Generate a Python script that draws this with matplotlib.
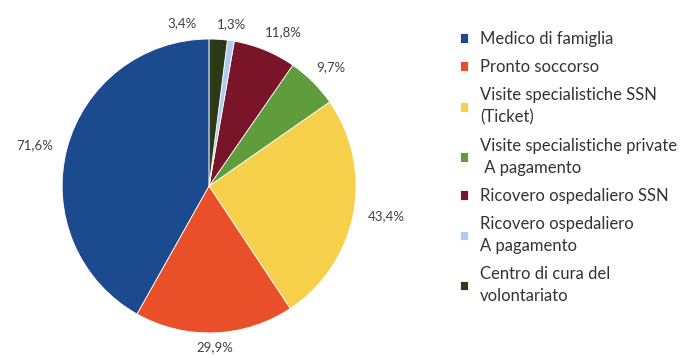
import matplotlib
matplotlib.use("Agg")
import matplotlib.pyplot as plt

categories = [
    "Medico di famiglia",
    "Pronto soccorso",
    "Visite specialistiche SSN\n(Ticket)",
    "Visite specialistiche private\n A pagamento",
    "Ricovero ospedaliero SSN",
    "Ricovero ospedaliero\nA pagamento",
    "Centro di cura del\nvolontariato",
]
values = [71.6, 29.9, 43.4, 9.7, 11.8, 1.3, 3.4]
colors = ["#1C4A8E", "#E9502A", "#F6D04A", "#5E9C3C", "#7A1428", "#AFCBEE", "#2C3A18"]

value_labels = [f"{v:.1f}%".replace(".", ",") for v in values]

plt.rcParams["font.family"] = ["Lato", "DejaVu Sans"]

fig = plt.figure(figsize=(6.89, 3.58), dpi=100)
ax = fig.add_axes([0.090, 0.070, 0.427, 0.821])

wedges, texts = ax.pie(
    values,
    labels=value_labels,
    colors=colors,
    startangle=90,
    counterclock=True,
    labeldistance=1.1,
    wedgeprops=dict(edgecolor="white", linewidth=0.6),
    textprops=dict(fontsize=9.5, color="#404040"),
)
ax.set_xlim(-1, 1)
ax.set_ylim(-1, 1)
ax.set_aspect("equal")

# bottom label centred under its slice
texts[1].set_horizontalalignment("center")
# small offsets for the crowded labels along the top
offsets = {3: (-0.05, 0.03), 4: (-0.04, 0.03), 5: (-0.11, 0.01), 6: (-0.35, 0.01)}
for i, (dx, dy) in offsets.items():
    x, y = texts[i].get_position()
    texts[i].set_position((x + dx, y + dy))

leg = fig.legend(
    wedges,
    categories,
    loc="upper left",
    bbox_to_anchor=(0.646, 0.955),
    frameon=False,
    fontsize=12,
    handlelength=0.5,
    handleheight=0.5,
    handletextpad=0.7,
    labelspacing=0.72,
)
for t in leg.get_texts():
    t.set_color("#333333")
    t.set_linespacing(1.48)

fig.savefig("out.png", dpi=100)
